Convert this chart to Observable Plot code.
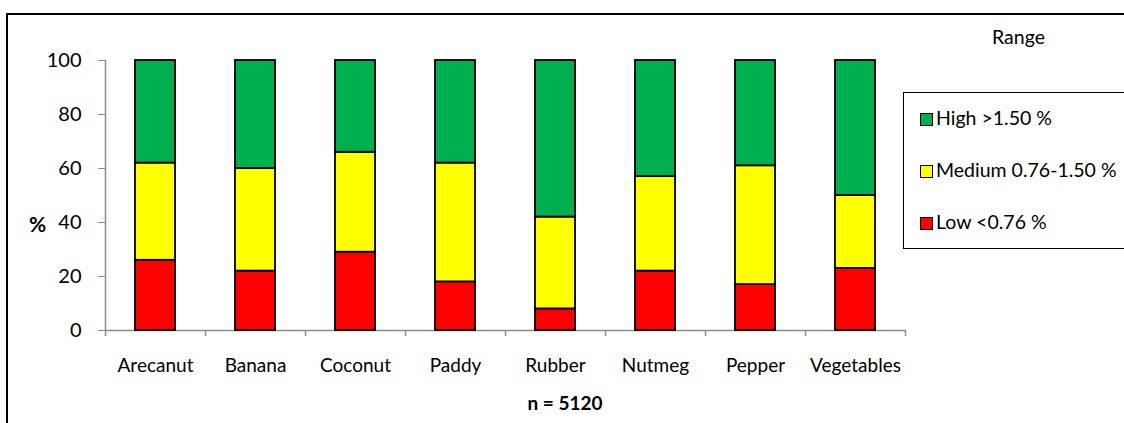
<!DOCTYPE html>
<html><head><meta charset="utf-8">
<script src="https://cdn.jsdelivr.net/npm/d3@7"></script>
<script src="https://cdn.jsdelivr.net/npm/@observablehq/plot@0.6"></script>
<style>
body{margin:0;background:#fff;font-family:Lato,"Open Sans",sans-serif;}
#wrap{position:relative;width:1124px;height:423px;overflow:hidden;background:#fff}
#border{position:absolute;left:6px;top:13px;width:1140px;height:440px;border:2.5px solid #000;box-sizing:border-box}
#chart{position:absolute;left:0;top:0}
#legendTitle{position:absolute;left:992px;top:25px;font-size:19.5px;color:#000}
#legend{position:absolute;left:903px;top:92px;width:240px;height:157px;border:1.5px solid #000;box-sizing:border-box;background:#fff}
.item{position:absolute;left:16px;font-size:19.5px;color:#000;white-space:nowrap;line-height:20px}
.sw{display:inline-block;width:11px;height:11px;border:1.2px solid #000;margin-right:3px;vertical-align:-1px}
#pct{position:absolute;left:29px;top:211px;font-size:21px;font-weight:bold}
#n{position:absolute;left:0;width:1130px;text-align:center;top:391px;font-size:19px;font-weight:bold}
</style></head>
<body>
<div id="wrap">
  <div id="border"></div>
  <div id="chart"></div>
  <div id="legendTitle">Range</div>
  <div id="legend"></div>
  <div id="pct">%</div>
  <div id="n">n = 5120</div>
</div>
<script>
const crops = ["Arecanut","Banana","Coconut","Paddy","Rubber","Nutmeg","Pepper","Vegetables"];
const ranges = ["Low <0.76 %","Medium 0.76-1.50 %","High >1.50 %"];
const rangeColors = ["#FF0000","#FFFF00","#00B050"];
const lowVals    = [26, 22, 29, 18,  8, 22, 17, 23];
const mediumVals = [36, 38, 37, 44, 34, 35, 44, 27];
const highVals   = [38, 40, 34, 38, 58, 43, 39, 50];
const yTicks = [0,20,40,60,80,100];

const data = [];
crops.forEach((c,i)=>{
  data.push({crop:c, range:ranges[0], value:lowVals[i]});
  data.push({crop:c, range:ranges[1], value:mediumVals[i]});
  data.push({crop:c, range:ranges[2], value:highVals[i]});
});

const W = 1124, H = 423, mL = 105, mR = 219, mT = 60, mB = 93;
const step = (W - mL - mR) / crops.length;
const axisColor = "#8c8c8c";

const chart = Plot.plot({
  width: W, height: H,
  marginLeft: mL, marginRight: mR, marginTop: mT, marginBottom: mB,
  style: {fontFamily: "Lato, 'Open Sans', sans-serif", fontSize: "20px", color: "#000", background: "transparent"},
  x: {domain: crops, paddingInner: 0.6, paddingOuter: 0.3, label: null},
  y: {domain: [0,100], ticks: yTicks, label: null},
  color: {domain: ranges, range: rangeColors},
  marks: [
    Plot.axisY({ticks: yTicks, tickSize: 7, tickPadding: 17, stroke: axisColor, label: null, fontSize: 20}),
    Plot.axisX({tickSize: 0, tickPadding: 28, label: null, fontSize: 19}),
    Plot.ruleY([0], {stroke: axisColor, strokeWidth: 1.5}),
    Plot.ruleX([crops[0]], {x: d=>d, y1: 0, y2: 100, dx: -step/2, stroke: axisColor, strokeWidth: 1.5}),
    Plot.ruleX(crops, {x: d=>d, y1: 0, y2: 0, dx: -step/2, insetBottom: -6, stroke: axisColor, strokeWidth: 1.5}),
    Plot.ruleX([crops[crops.length-1]], {x: d=>d, y1: 0, y2: 0, dx: step/2, insetBottom: -6, stroke: axisColor, strokeWidth: 1.5}),
    Plot.barY(data, {x: "crop", y: "value", fill: "range", stroke: "#000", strokeWidth: 1.8, order: ranges})
  ]
});
document.getElementById("chart").appendChild(chart);

const leg = document.getElementById("legend");
const legOrder = [2,1,0];
legOrder.forEach((k,j)=>{
  const el = document.createElement("div");
  el.className = "item";
  el.style.top = (15 + j*52) + "px";
  el.innerHTML = `<span class="sw" style="background:${rangeColors[k]}"></span>${ranges[k]}`;
  leg.appendChild(el);
});
</script>
</body></html>
